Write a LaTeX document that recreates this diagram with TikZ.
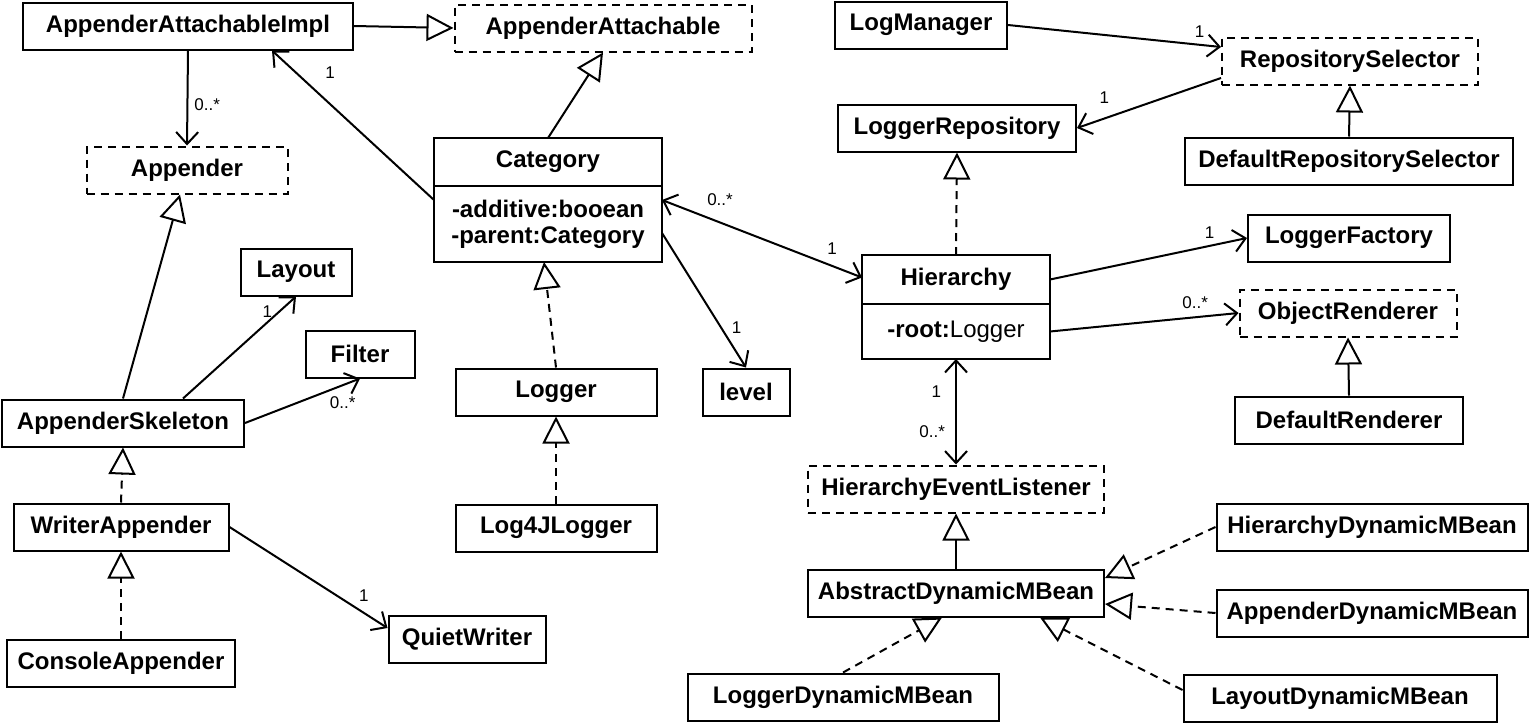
\documentclass[tikz,border=0pt]{standalone}
\usepackage{fontspec}
\setmainfont{Liberation Sans}
\usetikzlibrary{arrows.meta,positioning}

\begin{document}
\begin{tikzpicture}[x=0.5pt, y=-0.5pt,
	cls/.style={draw, line width=1pt, minimum height=23.5pt, inner sep=2pt, font=\fontsize{12}{13}\selectfont\bfseries},
	iface/.style={cls, dash pattern=on 4pt off 3pt},
	part/.style={cls, outer sep=0pt, anchor=north},
	gen/.style={line width=1pt, -{Triangle[open, length=13.5pt, width=13.5pt]}},
	real/.style={gen, dash pattern=on 4pt off 3pt},
	assoc/.style={line width=1pt, -{Straight Barb[length=6pt, width=11pt]}},
	biassoc/.style={line width=1pt, {Straight Barb[length=6pt, width=11pt]}-{Straight Barb[length=6pt, width=11pt]}},
	mult/.style={font=\fontsize{8.5}{9}\selectfont, inner sep=1pt}]

\useasboundingbox (0,0) rectangle (1530,724);

% classes
\foreach \n/\x/\y/\w/\t in {
	aai/188/26/165/AppenderAttachableImpl,
	logm/921/25/86/LogManager,
	lrep/957/128/119/LoggerRepository,
	drsel/1349/161/164/DefaultRepositorySelector,
	layout/296/272/55.5/Layout,
	filter/360/354/54.5/Filter,
	lfac/1349/238/101/LoggerFactory,
	level/746/392/43.5/level,
	logger/556/392/100.5/Logger,
	skel/123/423/121/AppenderSkeleton,
	drend/1349/420/114/DefaultRenderer,
	writer/121/527/107.5/WriterAppender,
	l4j/556/528/100.5/Log4JLogger,
	hdmb/1372/527/155.5/HierarchyDynamicMBean,
	admb/956/593/148/AbstractDynamicMBean,
	apdmb/1372/613/155.5/AppenderDynamicMBean,
	quiet/467/639/78.5/QuietWriter,
	console/121/663/114/ConsoleAppender,
	ldmb/843/697/155.5/LoggerDynamicMBean,
	laydmb/1340/698/156.5/LayoutDynamicMBean}
	\node[cls, minimum width=\w pt] (\n) at (\x,\y) {\t};

% interfaces
\foreach \n/\x/\y/\w/\t in {
	aa/603/28/148.5/AppenderAttachable,
	rsel/1350/61/128/RepositorySelector,
	app/187/170/100.5/Appender,
	orend/1348/313/108.5/ObjectRenderer,
	hel/956/489/148/HierarchyEventListener}
	\node[iface, minimum width=\w pt] (\n) at (\x,\y) {\t};

% classes with attributes
\node[part, minimum width=114pt, minimum height=24pt] (catT) at (548,138) {Category};
\node[part, minimum width=114pt, minimum height=38pt, align=center] (catA) at (catT.south) {-additive:booean\\-parent:Category};
\node[part, minimum width=94pt, minimum height=24.5pt] (hierT) at (956,255) {Hierarchy};
\node[part, minimum width=94pt, minimum height=27.5pt] (hierA) at (hierT.south) {-root:\textmd{Logger}};

% generalization and realization
\foreach \a/\b in {drsel/rsel, drend/orend, admb/hel}
	\draw[gen] (\a.north) -- (\b.south);
\foreach \a/\b in {writer/skel, console/writer, l4j/logger, hierT/lrep}
	\draw[real] (\a.north) -- (\b.south);
\draw[gen] (aai.east) -- (aa.west);
\draw[gen] (catT.north) -- (aa.south);
\draw[gen] (skel.north) -- ([xshift=-3.5pt]app.south);
\draw[real] (logger.north) -- ([xshift=-2pt]catA.south);
\draw[real] (hdmb.west) -- ([yshift=7.5pt]admb.east);
\draw[real] (apdmb.west) -- ([yshift=-5.5pt]admb.east);
\draw[real] (ldmb.north) -- ([xshift=-7pt]admb.south);
\draw[real] ([yshift=4pt]laydmb.west) -- ([xshift=42pt]admb.south);

% associations
\draw[assoc] ([yshift=-7pt]catA.north west) -- ([xshift=42pt]aai.south) node[mult, pos=0.85, anchor=west, xshift=13pt] {1};
\draw[assoc] (aai.south) -- (app.north) node[mult, pos=0.57, anchor=west, xshift=2pt] {0..*};
\draw[assoc] ([xshift=30pt]skel.north) -- (layout.south) node[mult, pos=0.85, anchor=east, xshift=-2pt] {1};
\draw[assoc] (skel.east) -- (filter.south) node[mult, pos=0.85, anchor=north, yshift=-4pt] {0..*};
\draw[assoc] (writer.east) -- ([yshift=5.5pt]quiet.west) node[mult, pos=0.85, anchor=south, yshift=4pt] {1};
\draw[assoc] ([yshift=-23.5pt]catA.north east) -- (level.north) node[mult, pos=0.7, anchor=west, xshift=4pt] {1};
\draw[biassoc] ([yshift=-7pt]catA.north east) -- ([yshift=1pt]hierT.west)
	node[mult, pos=0.29, anchor=south, yshift=7pt] {0..*}
	node[mult, pos=0.85, anchor=south, yshift=4pt] {1};
\draw[assoc] (logm.east) -- ([yshift=7pt]rsel.west) node[mult, pos=0.9, anchor=south, yshift=2pt] {1};
\draw[assoc] ([yshift=-8.5pt]rsel.west) -- (lrep.east) node[mult, pos=0.81, anchor=south, yshift=6pt] {1};
\draw[assoc] (hierT.east) -- (lfac.west) node[mult, pos=0.81, anchor=south, yshift=2pt] {1};
\draw[assoc] (hierA.east) -- (orend.west) node[mult, pos=0.77, anchor=south, yshift=3pt] {0..*};
\draw[biassoc] (hierA.south) -- (hel.north)
	node[mult, pos=0.31, anchor=east, xshift=-6pt] {1}
	node[mult, pos=0.69, anchor=east, xshift=-4pt] {0..*};

\end{tikzpicture}
\end{document}
